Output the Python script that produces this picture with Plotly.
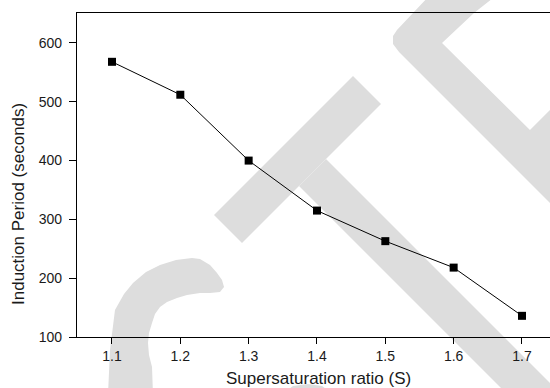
import plotly.graph_objects as go

# ---- data ----
supersaturation = [1.1, 1.2, 1.3, 1.4, 1.5, 1.6, 1.7]
induction_period = [568, 512, 400, 315, 263, 218, 136]
x_tick_vals = [1.1, 1.2, 1.3, 1.4, 1.5, 1.6, 1.7]
x_tick_text = ["1.1", "1.2", "1.3", "1.4", "1.5", "1.6", "1.7"]
y_tick_vals = [100, 200, 300, 400, 500, 600]
y_tick_text = ["100", "200", "300", "400", "500", "600"]
x_title = "Supersaturation ratio (S)"
y_title = "Induction Period (seconds)"

# ---- layout geometry ----
W, H = 550, 388
L, R, T, B = 77, 0, 13, 51
PW, PH = W - L - R, H - T - B


def to_paper(pts):
    return [((x - L) / PW, (H - B - y) / PH) for x, y in pts]


def poly_path(pts):
    pp = to_paper(pts)
    return "M " + " L ".join(f"{x:.4f},{y:.4f}" for x, y in pp) + " Z"


# light grey watermark shapes (decoration, in pixel space)
wm_C = [(108, 395), (110, 350), (115, 310), (124, 294), (133, 283), (146, 272), (160, 265),
        (176, 260), (192, 258), (200, 259), (210, 265), (217, 273), (222, 280), (224, 287),
        (220, 292), (210, 293), (200, 293), (187, 295), (177, 298), (167, 302), (160, 307),
        (155, 314), (152, 323), (149, 333), (148, 343), (149, 355), (152, 367), (153, 395)]
wm_T_bar = [(214, 215), (242, 243), (381, 104), (353, 76)]
wm_T_stem = [(299, 186), (326, 159), (567, 400), (513, 400)]
wm_P = [(430, -5), (497, -5), (488, 2), (474, 13), (442, 43), (530, 130), (560, 100),
        (560, 213), (399, 52), (393, 44), (393, 36), (397, 30)]
wm_bump = [(285, 392), (293, 386), (308, 384), (322, 386), (330, 392)]

shapes = []
for pts in [wm_C, wm_T_bar, wm_T_stem, wm_P, wm_bump]:
    shapes.append(dict(type="path", xref="paper", yref="paper", path=poly_path(pts),
                       fillcolor="#dddddd", line=dict(width=0), layer="below"))

fig = go.Figure()
fig.add_trace(go.Scatter(
    x=supersaturation, y=induction_period, mode="lines+markers",
    line=dict(color="black", width=1),
    marker=dict(symbol="square", size=8, color="black"),
    showlegend=False, cliponaxis=False,
))

font = "Liberation Sans, Arial, sans-serif"
fig.update_layout(
    width=W, height=H,
    margin=dict(l=L, r=R, t=T, b=B, pad=0),
    paper_bgcolor="white", plot_bgcolor="rgba(0,0,0,0)",
    font=dict(family=font, color="#1a1a1a"),
    shapes=shapes,
    xaxis=dict(range=[1.0488, 1.741], tickvals=x_tick_vals, ticktext=x_tick_text,
               showgrid=False, zeroline=False, showline=True, linecolor="black",
               linewidth=1.3, mirror=True, ticks="outside", ticklen=6, tickwidth=1.2,
               tickcolor="black", tickfont=dict(size=14, family=font, color="#1a1a1a")),
    yaxis=dict(range=[100, 651], tickvals=y_tick_vals, ticktext=y_tick_text,
               showgrid=False, zeroline=False, showline=True, linecolor="black",
               linewidth=1.3, ticks="outside", ticklen=7, tickwidth=1.2,
               tickcolor="black", ticklabelstandoff=4,
               tickfont=dict(size=14, family=font, color="#1a1a1a")),
    annotations=[
        dict(text=x_title, xref="paper", yref="paper",
             x=(318.5 - L) / PW, y=(H - B - 378.5) / PH, xanchor="center", yanchor="middle",
             showarrow=False, font=dict(size=17, family=font, color="#1a1a1a")),
        dict(text=y_title, xref="paper", yref="paper", textangle=-90,
             x=(18.5 - L) / PW, y=(H - B - 204.5) / PH, xanchor="center", yanchor="middle",
             showarrow=False, font=dict(size=17, family=font, color="#1a1a1a")),
    ],
)

fig.write_html("out.html")
